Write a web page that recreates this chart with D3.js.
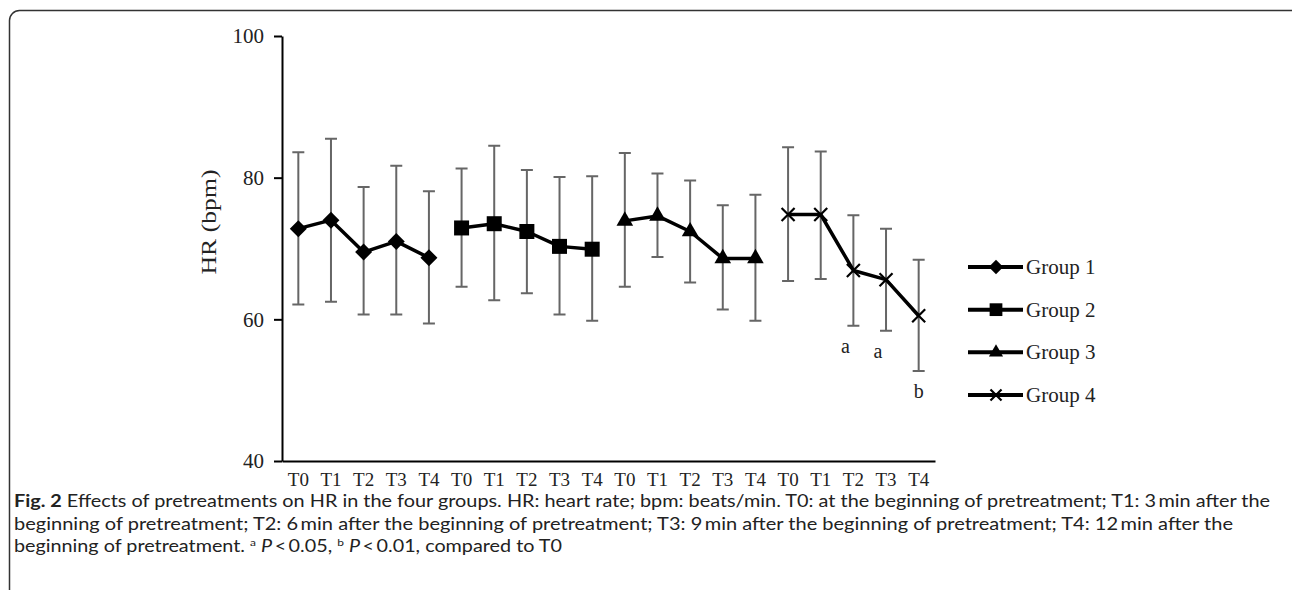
<!DOCTYPE html>
<html>
<head>
<meta charset="utf-8">
<script src="https://cdn.jsdelivr.net/npm/d3@7/dist/d3.min.js"></script>
<style>
  body { margin: 0; background: #fff; }
  svg { display: block; }
</style>
</head>
<body>
<div id="chart"></div>
<script>
const groups = ["Group 1", "Group 2", "Group 3", "Group 4"];
const timePoints = ["T0", "T1", "T2", "T3", "T4"];
const meanHR = [
  [72.8, 74.0, 69.5, 71.0, 68.7],
  [72.9, 73.5, 72.4, 70.3, 69.9],
  [73.9, 74.6, 72.4, 68.6, 68.6],
  [74.8, 74.8, 66.9, 65.6, 60.5]
];
const upperHR = [
  [83.6, 85.5, 78.7, 81.7, 78.1],
  [81.3, 84.5, 81.1, 80.1, 80.2],
  [83.5, 80.6, 79.6, 76.1, 77.6],
  [84.3, 83.7, 74.7, 72.8, 68.4]
];
const lowerHR = [
  [62.1, 62.5, 60.7, 60.7, 59.4],
  [64.6, 62.7, 63.7, 60.7, 59.8],
  [64.6, 68.8, 65.2, 61.4, 59.8],
  [65.4, 65.7, 59.1, 58.4, 52.7]
];
const sigMarks = [
  ["", "", "", "", ""],
  ["", "", "", "", ""],
  ["", "", "", "", ""],
  ["", "", "a", "a", "b"]
];
const yTicks = [40, 60, 80, 100];

const width = 1292, height = 590;
const serif = "'Liberation Serif', 'Times New Roman', serif";
const sans = "Lato, 'Open Sans', sans-serif";

const svg = d3.select("#chart").append("svg")
  .attr("width", width)
  .attr("height", height);

// page frame
svg.append("rect")
  .attr("x", 9.5).attr("y", 10.5)
  .attr("width", 1300).attr("height", 620)
  .attr("rx", 10)
  .attr("fill", "none")
  .attr("stroke", "#333")
  .attr("stroke-width", 1.5);

// flatten to one category per time point
const points = [];
groups.forEach((g, gi) => {
  timePoints.forEach((t, ti) => {
    points.push({
      key: gi * timePoints.length + ti, group: gi, label: t,
      mean: meanHR[gi][ti], hi: upperHR[gi][ti], lo: lowerHR[gi][ti],
      sig: sigMarks[gi][ti]
    });
  });
});

const x = d3.scaleBand()
  .domain(points.map(d => d.key))
  .range([282, 935]);

const y = d3.scaleLinear()
  .domain([40, 100])
  .range([461, 36]);

const cx = d => x(d.key) + x.bandwidth() / 2;

// axes
const yAxis = svg.append("g")
  .attr("transform", "translate(282,0)")
  .call(d3.axisLeft(y).tickValues(yTicks).tickSize(8).tickPadding(10).tickSizeOuter(0));
yAxis.select(".domain").attr("stroke", "#000").attr("stroke-width", 2);
yAxis.selectAll(".tick line").attr("stroke", "#000").attr("stroke-width", 2);
yAxis.selectAll(".tick text")
  .attr("font-family", serif)
  .attr("font-size", 21)
  .attr("fill", "#222");

const xAxis = svg.append("g")
  .attr("transform", "translate(0,461)")
  .call(d3.axisBottom(x).tickSize(0).tickPadding(12).tickSizeOuter(0)
    .tickFormat(k => points[k].label));
xAxis.select(".domain").attr("stroke", "#000").attr("stroke-width", 2);
xAxis.selectAll(".tick text")
  .attr("font-family", serif)
  .attr("font-size", 19)
  .attr("fill", "#222");

svg.append("text")
  .attr("transform", "translate(216,222) rotate(-90)")
  .attr("text-anchor", "middle")
  .attr("font-family", serif)
  .attr("font-size", 20)
  .attr("fill", "#222")
  .attr("textLength", 105)
  .attr("lengthAdjust", "spacingAndGlyphs")
  .text("HR (bpm)");

// error bars
const err = svg.append("g")
  .attr("stroke", "#666")
  .attr("stroke-width", 2)
  .attr("fill", "none");
err.selectAll("path")
  .data(points)
  .join("path")
  .attr("d", d => {
    const c = cx(d), w = 6;
    return `M${c},${y(d.hi)}V${y(d.lo)}M${c - w},${y(d.hi)}H${c + w}M${c - w},${y(d.lo)}H${c + w}`;
  });

// lines
const line = d3.line().x(cx).y(d => y(d.mean));
groups.forEach((g, gi) => {
  svg.append("path")
    .datum(points.filter(p => p.group === gi))
    .attr("d", line)
    .attr("fill", "none")
    .attr("stroke", "#000")
    .attr("stroke-width", 3.5)
    .attr("stroke-linejoin", "round");
});

// markers
function marker(sel, gi, scale) {
  if (gi === 0) {
    sel.append("path").attr("d", d3.symbol(d3.symbolSquare, 144 * scale * scale)())
      .attr("transform", "rotate(45)").attr("fill", "#000");
  } else if (gi === 1) {
    sel.append("path").attr("d", d3.symbol(d3.symbolSquare, 225 * scale * scale)()).attr("fill", "#000");
  } else if (gi === 2) {
    sel.append("path").attr("d", d3.symbol(d3.symbolTriangle, 120 * scale * scale)()).attr("fill", "#000");
  } else {
    const r = 6.5 * scale;
    sel.append("path").attr("d", `M${-r},${-r}L${r},${r}M${-r},${r}L${r},${-r}`)
      .attr("stroke", "#000").attr("stroke-width", 2.2).attr("fill", "none");
  }
}

points.forEach(p => {
  const g = svg.append("g").attr("transform", `translate(${cx(p)},${y(p.mean)})`);
  marker(g, p.group, 1);
});

// significance letters
svg.append("g")
  .selectAll("text")
  .data(points.filter(p => p.sig))
  .join("text")
  .attr("x", d => cx(d) - (d.sig === "a" ? 8 : 0))
  .attr("y", d => y(d.lo) + 27)
  .attr("text-anchor", "middle")
  .attr("font-family", serif)
  .attr("font-size", 20)
  .attr("fill", "#222")
  .text(d => d.sig);

// legend
const legendY = d3.scalePoint().domain(groups).range([267, 395]);
const leg = svg.append("g")
  .selectAll("g")
  .data(groups)
  .join("g")
  .attr("transform", d => `translate(968,${legendY(d)})`);
leg.append("line")
  .attr("x1", 0).attr("x2", 55)
  .attr("stroke", "#000").attr("stroke-width", 4);
leg.each(function (d, i) {
  const m = d3.select(this).append("g").attr("transform", "translate(28,0)");
  marker(m, i, 0.85);
});
leg.append("text")
  .attr("x", 58)
  .attr("dy", "0.33em")
  .attr("font-family", serif)
  .attr("font-size", 21)
  .attr("fill", "#222")
  .text(d => d);

// caption
const cap = svg.append("g")
  .attr("font-family", sans)
  .attr("font-size", 16.5)
  .attr("fill", "#222");
const l1 = cap.append("text").attr("x", 14).attr("y", 507)
  .attr("textLength", 1256).attr("lengthAdjust", "spacingAndGlyphs");
l1.append("tspan").attr("font-weight", "bold").text("Fig. 2");
l1.append("tspan").text(" Effects of pretreatments on HR in the four groups. HR: heart rate; bpm: beats/min. T0: at the beginning of pretreatment; T1: 3\u2009min after the");
cap.append("text").attr("x", 14).attr("y", 529.5)
  .attr("textLength", 1219).attr("lengthAdjust", "spacingAndGlyphs")
  .text("beginning of pretreatment; T2: 6\u2009min after the beginning of pretreatment; T3: 9\u2009min after the beginning of pretreatment; T4: 12\u2009min after the");
const l3 = cap.append("text").attr("x", 14).attr("y", 552)
  .attr("textLength", 548).attr("lengthAdjust", "spacingAndGlyphs");
l3.append("tspan").text("beginning of pretreatment. ");
l3.append("tspan").attr("font-size", 10).attr("dy", -6).text("a");
l3.append("tspan").attr("dy", 6).text(" ");
l3.append("tspan").attr("font-style", "italic").text("P");
l3.append("tspan").text("\u2009<\u20090.05, ");
l3.append("tspan").attr("font-size", 10).attr("dy", -6).text("b");
l3.append("tspan").attr("dy", 6).text(" ");
l3.append("tspan").attr("font-style", "italic").text("P");
l3.append("tspan").text("\u2009<\u20090.01, compared to T0");
</script>
</body>
</html>
